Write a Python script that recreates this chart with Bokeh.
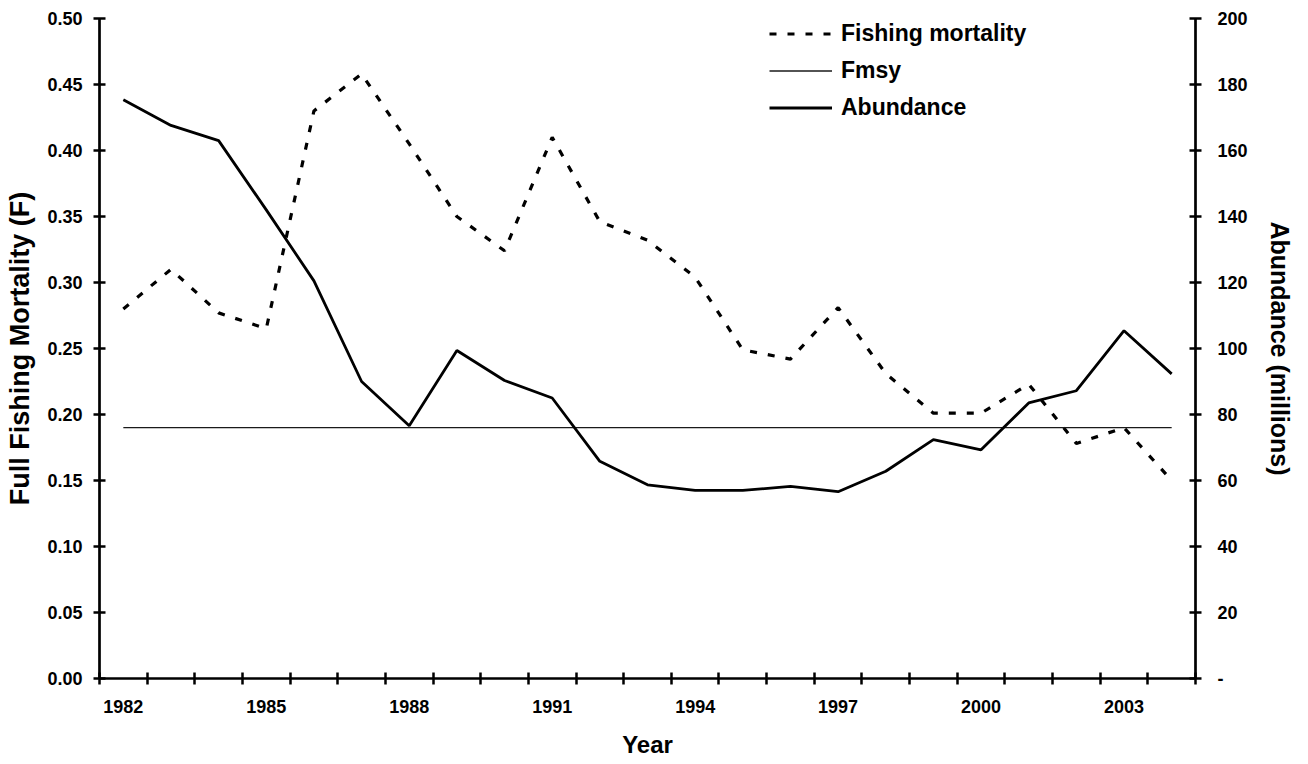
from bokeh.plotting import figure
from bokeh.models import (Range1d, LinearAxis, FixedTicker, NumeralTickFormatter,
                          Legend, LegendItem)
from bokeh.embed import file_html
from bokeh.resources import INLINE

# ---- data ----
years = [1982, 1983, 1984, 1985, 1986, 1987, 1988, 1989, 1990, 1991, 1992, 1993,
         1994, 1995, 1996, 1997, 1998, 1999, 2000, 2001, 2002, 2003, 2004]
fishing_mortality = [0.280, 0.310, 0.277, 0.265, 0.430, 0.458, 0.405, 0.350, 0.324,
                     0.410, 0.346, 0.332, 0.304, 0.249, 0.242, 0.281, 0.231, 0.201,
                     0.201, 0.223, 0.178, 0.190, 0.150]
abundance = [175.4, 167.6, 163.0, 142.0, 120.5, 90.0, 76.6, 99.4, 90.3, 85.0, 65.8,
             58.7, 57.0, 57.0, 58.2, 56.6, 62.8, 72.4, 69.3, 83.5, 87.2, 105.4, 92.3]
fmsy_value = 0.19
fmsy = [fmsy_value for _ in years]

year_labels = [1982, 1985, 1988, 1991, 1994, 1997, 2000, 2003]
f_ticks = [0.00, 0.05, 0.10, 0.15, 0.20, 0.25, 0.30, 0.35, 0.40, 0.45, 0.50]
abund_ticks = [0, 20, 40, 60, 80, 100, 120, 140, 160, 180, 200]

FONT = "Liberation Sans"

x_lo = years[0] - 0.5
x_hi = years[-1] + 0.5
boundaries = [y - 0.5 for y in years] + [x_hi]

p = figure(width=1308, height=764, output_backend="svg", toolbar_location=None,
           x_range=Range1d(x_lo, x_hi), y_range=Range1d(0, 0.5),
           min_border_left=99, min_border_right=113, min_border_top=18,
           min_border_bottom=86)
p.extra_y_ranges = {"abund": Range1d(0, 200)}
p.outline_line_color = None
p.xgrid.grid_line_color = None
p.ygrid.grid_line_color = None
p.background_fill_color = "white"

def style_axis(ax):
    ax.axis_line_width = 2.7
    ax.axis_line_color = "black"
    ax.major_tick_line_width = 2.5
    ax.major_tick_line_color = "black"
    ax.major_tick_in = 6
    ax.major_tick_out = 6
    ax.minor_tick_line_color = None
    ax.major_label_text_font = FONT
    ax.major_label_text_font_style = "bold"
    ax.major_label_text_font_size = "18px"
    ax.major_label_text_color = "black"
    ax.axis_label_text_font = FONT
    ax.axis_label_text_font_style = "bold"
    ax.axis_label_text_color = "black"

# x axis
xa = p.xaxis[0]
style_axis(xa)
xa.ticker = FixedTicker(ticks=year_labels, minor_ticks=boundaries)
xa.major_tick_line_color = None
xa.major_tick_in = 0
xa.minor_tick_line_color = "black"
xa.minor_tick_line_width = 2.5
xa.minor_tick_in = 6
xa.minor_tick_out = 6
xa.major_label_standoff = 15
xa.axis_label = "Year"
xa.axis_label_text_font_size = "24px"
xa.axis_label_standoff = 15

# left y axis
ya = p.yaxis[0]
style_axis(ya)
ya.ticker = FixedTicker(ticks=f_ticks)
ya.formatter = NumeralTickFormatter(format="0.00")
ya.axis_label = "Full Fishing Mortality (F)"
ya.axis_label_text_font_size = "27px"
ya.major_label_standoff = 11
ya.axis_label_standoff = 9

# right y axis
ra = LinearAxis(y_range_name="abund")
style_axis(ra)
ra.ticker = FixedTicker(ticks=abund_ticks)
ra.major_label_overrides = {0: "-"}
ra.axis_label = "Abundance (millions)"
ra.axis_label_text_font_size = "25px"
ra.major_label_standoff = 16
ra.axis_label_standoff = 15
p.add_layout(ra, "right")

# series
r_f = p.line(years, fishing_mortality, line_color="black", line_width=3.2,
             line_dash="7 11")
r_m = p.line(years, fmsy, line_color="#1a1a1a", line_width=1.3)
r_a = p.line(years, abundance, line_color="black", line_width=2.8,
             y_range_name="abund")

legend = Legend(items=[LegendItem(label="Fishing mortality", renderers=[r_f]),
                       LegendItem(label="Fmsy", renderers=[r_m]),
                       LegendItem(label="Abundance", renderers=[r_a])],
                location=(670, 557))
legend.glyph_width = 63
legend.glyph_height = 25
legend.label_height = 25
legend.label_standoff = 9
legend.spacing = 10
legend.padding = 0
legend.margin = 0
legend.border_line_color = None
legend.background_fill_alpha = 0
legend.label_text_font = FONT
legend.label_text_font_style = "bold"
legend.label_text_font_size = "23px"
legend.label_text_color = "black"
p.add_layout(legend)

open("out.html", "w").write(file_html(p, INLINE))
